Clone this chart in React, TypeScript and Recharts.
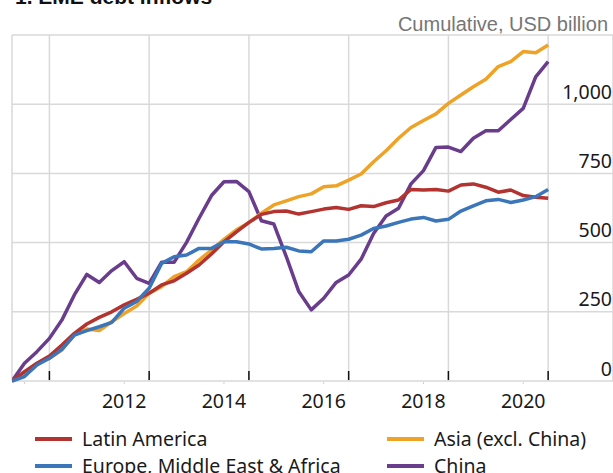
import React from "react";
import { LineChart, Line, XAxis, YAxis, CartesianGrid } from "recharts";

// Quarterly periods, 2010 Q1 to 2020 Q4 (plotted at quarter end)
const periods = Array.from({ length: 44 }, (_, i) => `${2010 + Math.floor(i / 4)}Q${(i % 4) + 1}`);

// Cumulative inflows, USD billion
const latinAmerica = [
  0, 34, 64, 90, 130, 172, 206, 230, 250, 275, 295, 317, 347, 362, 389, 419, 459, 503, 539, 573, 602, 612,
  614, 603, 612, 621, 627, 620, 633, 630, 644, 654, 692, 690, 692, 686, 708, 712, 700, 682, 690, 670, 664, 660,
];
const asiaExChina = [
  0, 28, 64, 82, 112, 166, 188, 182, 214, 244, 271, 317, 341, 377, 395, 437, 473, 512, 546, 572, 606, 636,
  651, 666, 676, 702, 705, 726, 748, 792, 832, 877, 916, 941, 965, 1003, 1033, 1063, 1090, 1136, 1154, 1190, 1186, 1214,
];
const emea = [
  0, 16, 58, 82, 114, 166, 182, 196, 212, 263, 287, 335, 425, 449, 455, 479, 479, 503, 503, 495, 477, 479,
  483, 470, 467, 506, 506, 512, 527, 551, 560, 573, 585, 591, 578, 584, 614, 633, 651, 656, 645, 654, 666, 692,
];
const china = [
  0, 64, 106, 154, 220, 311, 385, 356, 399, 431, 371, 353, 429, 429, 501, 588, 670, 720, 721, 684, 579, 567,
  449, 323, 257, 299, 356, 383, 440, 533, 596, 624, 712, 760, 844, 845, 829, 877, 904, 904, 945, 985, 1099, 1154,
];

const xDomain = [2010.25, 2022.3];
const gridTicks = [2010.25, 2011, 2013, 2015, 2017, 2019, 2021];
const labelTicks = [2010.5, 2012.5, 2014.5, 2016.5, 2018.5, 2020.5];
const yTicks = [0, 250, 500, 750, 1000, 1250];

const series = [
  { key: "china", name: "China", color: "#6a3c8c" },
  { key: "asia", name: "Asia (excl. China)", color: "#eea226" },
  { key: "latam", name: "Latin America", color: "#b2332f" },
  { key: "emea", name: "Europe, Middle East & Africa", color: "#3a76b9" },
];

// legend layout follows the reference (two columns)
const legendRows = [
  ["latam", "asia"],
  ["emea", "china"],
];

const data = periods.map((p, i) => ({
  period: p,
  x: Number(p.slice(0, 4)) + Number(p.slice(5)) / 4,
  latam: latinAmerica[i],
  asia: asiaExChina[i],
  emea: emea[i],
  china: china[i],
}));

const FONT = "'Noto Sans', sans-serif";

// short black tick marks pointing up into the plot
function GridTick(props: any) {
  const { x, y, payload } = props;
  if (payload.value === xDomain[0]) return <g />;
  return <line x1={x} x2={x} y1={y - 10} y2={y - 1} stroke="#111" strokeWidth={1.5} />;
}

// right-hand labels sit just above their gridline
function YTick(props: any) {
  const { y, payload } = props;
  if (payload.value === 1250) return <g />;
  return (
    <text x={612} y={y - 5.5} textAnchor="end" fill="#1a1a1a" fontSize={19.5} fontFamily={FONT}>
      {payload.value.toLocaleString("en-US")}
    </text>
  );
}

export default function App() {
  return (
    <div
      style={{
        position: "absolute",
        left: 0,
        top: 0,
        width: 613,
        height: 473,
        overflow: "hidden",
        background: "#fff",
        fontFamily: FONT,
      }}
    >
      <div
        style={{
          position: "absolute",
          left: 15,
          top: -14,
          fontFamily: "'Liberation Sans', Arial, sans-serif",
          fontWeight: "bold",
          fontSize: 21,
          lineHeight: "21px",
          color: "#111",
          whiteSpace: "nowrap",
        }}
      >
        1. EME debt inflows
      </div>
      <div
        style={{
          position: "absolute",
          right: 5,
          top: 12,
          fontFamily: "'Liberation Sans', Arial, sans-serif",
          fontSize: 20,
          lineHeight: "24px",
          color: "#767676",
          whiteSpace: "nowrap",
        }}
      >
        Cumulative, USD billion
      </div>

      <div style={{ position: "absolute", left: 0, top: 0 }}>
        <LineChart width={614} height={420} data={data} margin={{ top: 35, right: 0, bottom: 0, left: 12 }}>
          <CartesianGrid stroke="#d9d9d9" strokeWidth={1.5} />
          <XAxis
            xAxisId={0}
            dataKey="x"
            type="number"
            domain={xDomain}
            ticks={gridTicks}
            interval={0}
            allowDataOverflow
            height={1}
            tickSize={0}
            tickMargin={0}
            axisLine={false}
            tickLine={false}
            tick={GridTick}
          />
          <XAxis
            xAxisId="lbl"
            dataKey="x"
            type="number"
            domain={xDomain}
            ticks={labelTicks}
            interval={0}
            allowDataOverflow
            height={38}
            tickSize={2}
            tickMargin={10}
            axisLine={false}
            tickLine={{ stroke: "#cfcfcf" }}
            tick={{ fontSize: 19.5, fill: "#1a1a1a", fontFamily: FONT }}
            tickFormatter={(v: number) => (v === labelTicks[0] ? "" : String(Math.floor(v)))}
          />
          <YAxis
            orientation="right"
            domain={[0, 1250]}
            ticks={yTicks}
            interval={0}
            width={1}
            tickSize={0}
            tickMargin={0}
            axisLine={false}
            tickLine={false}
            tick={YTick}
          />
          {series.map((s) => (
            <Line
              key={s.key}
              dataKey={s.key}
              name={s.name}
              stroke={s.color}
              strokeWidth={3.5}
              dot={false}
              type="linear"
              strokeLinejoin="round"
              isAnimationActive={false}
            />
          ))}
        </LineChart>
      </div>

      {legendRows.map((row, r) =>
        row.map((k, c) => {
          const s = series.find((d) => d.key === k)!;
          return (
            <div
              key={k}
              style={{
                position: "absolute",
                left: c === 0 ? 35 : 387,
                top: 425 + r * 27,
                height: 27,
                display: "flex",
                alignItems: "center",
                whiteSpace: "nowrap",
              }}
            >
              <span style={{ display: "inline-block", width: 37, height: 4, background: s.color, marginRight: 10 }} />
              <span style={{ fontSize: 19.5, color: "#1a1a1a", lineHeight: "27px" }}>{s.name}</span>
            </div>
          );
        })
      )}
    </div>
  );
}
